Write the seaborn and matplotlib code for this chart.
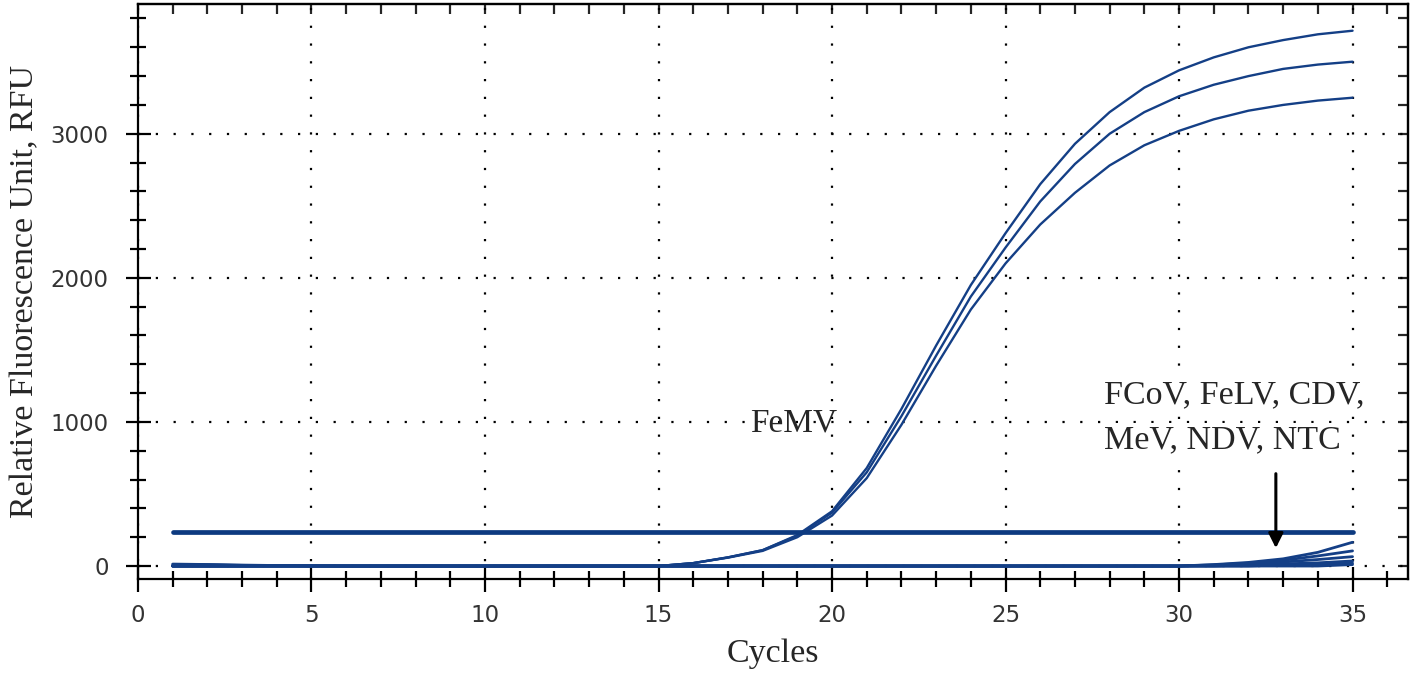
import numpy as np
import pandas as pd
import matplotlib
matplotlib.use("Agg")
import matplotlib.pyplot as plt
import seaborn as sns
from matplotlib.ticker import MultipleLocator

# Zyklen und Fluoreszenzwerte (RFU)
cycles = list(range(1, 36))

femv_1 = [15, 12, 8, 5, 2, 0, 0, 0, 0, 0, 0, 0, 0, 0, 0,
          20, 60, 110, 215, 380, 680, 1090, 1530, 1950, 2310,
          2650, 2930, 3150, 3320, 3440, 3530, 3600, 3650, 3690, 3715]
femv_2 = [12, 10, 6, 4, 1, 0, 0, 0, 0, 0, 0, 0, 0, 0, 0,
          20, 60, 110, 210, 370, 650, 1040, 1460, 1870, 2210,
          2530, 2790, 3000, 3150, 3260, 3340, 3400, 3450, 3480, 3500]
femv_3 = [10, 8, 5, 3, 1, 0, 0, 0, 0, 0, 0, 0, 0, 0, 0,
          20, 58, 105, 200, 350, 610, 980, 1390, 1780, 2100,
          2370, 2590, 2780, 2920, 3020, 3100, 3160, 3200, 3230, 3250]

neg_1 = [0] * 30 + [10, 25, 50, 95, 165]
neg_2 = [0] * 30 + [8, 20, 40, 70, 105]
neg_3 = [0] * 30 + [5, 15, 28, 45, 65]
neg_4 = [0] * 31 + [8, 15, 22, 35]
neg_5 = [0] * 32 + [8, 12, 20]
neg_6 = [0] * 34 + [10]

threshold_x = [1, 35]
threshold_y = [236, 236]

positives = {"FeMV 1": femv_1, "FeMV 2": femv_2, "FeMV 3": femv_3}
negatives = {"Neg 1": neg_1, "Neg 2": neg_2, "Neg 3": neg_3,
             "Neg 4": neg_4, "Neg 5": neg_5, "Neg 6": neg_6}

# Long-Format Dataframes fuer seaborn
def to_long(d):
    return pd.concat([pd.DataFrame({"Cycles": cycles, "RFU": vals, "sample": name})
                      for name, vals in d.items()], ignore_index=True)

df_pos = to_long(positives)
df_neg = to_long(negatives)

line_color = "#143f86"

sns.set_theme(style="white")
plt.rcParams["font.family"] = ["Liberation Serif", "DejaVu Serif"]

fig = plt.figure(figsize=(14.18, 6.76), dpi=100)
ax = fig.add_axes([0.0973, 0.1435, 0.8957, 0.8505])

sns.lineplot(data=df_neg, x="Cycles", y="RFU", hue="sample",
             palette=[line_color] * len(negatives), linewidth=2.0,
             legend=False, ax=ax)
sns.lineplot(data=df_pos, x="Cycles", y="RFU", hue="sample",
             palette=[line_color] * len(positives), linewidth=1.7,
             legend=False, ax=ax)
sns.lineplot(x=threshold_x, y=threshold_y, color="#0d3a80", linewidth=3.4, ax=ax)

ax.set_xlim(0, 36.6)
ax.set_ylim(-90, 3900)

ax.xaxis.set_major_locator(MultipleLocator(5))
ax.xaxis.set_minor_locator(MultipleLocator(1))
ax.yaxis.set_major_locator(MultipleLocator(1000))
ax.yaxis.set_minor_locator(MultipleLocator(200))

ax.grid(True, which="major", color="black", linestyle=(0, (1, 7)), linewidth=1.6)

for s in ax.spines.values():
    s.set_color("black")
    s.set_linewidth(1.6)

ax.tick_params(which="major", direction="inout", length=18, width=1.6, color="black",
               labelsize=16.5, labelcolor="#333333", left=True, bottom=True)
ax.tick_params(which="minor", direction="inout", length=11, width=1.6, color="black",
               left=True, bottom=True)
ax.tick_params(axis="y", which="major", pad=12)
ax.tick_params(axis="x", which="major", pad=9)
for lab in ax.get_xticklabels() + ax.get_yticklabels():
    lab.set_family(["DejaVu Sans"])

# Ticks oben und rechts nach innen
sec_x = ax.secondary_xaxis("top")
sec_x.xaxis.set_major_locator(MultipleLocator(1))
sec_x.tick_params(direction="in", length=7, width=1.6, labeltop=False)
sec_x.spines["top"].set_linewidth(1.6)
sec_y = ax.secondary_yaxis("right")
sec_y.yaxis.set_major_locator(MultipleLocator(200))
sec_y.tick_params(direction="in", length=7, width=1.6, labelright=False)
sec_y.spines["right"].set_linewidth(1.6)

ax.set_xlabel("Cycles", fontsize=24.5)
ax.set_ylabel("Relative Fluorescence Unit, RFU", fontsize=24.5)
ax.xaxis.set_label_coords(0.5, -0.103)
ax.yaxis.set_label_coords(-0.077, 0.5)

ax.text(18.9, 990, "FeMV", fontsize=24, ha="center", va="center")
ax.text(27.85, 1190, "FCoV, FeLV, CDV,", fontsize=24.5, ha="left", va="center",
        bbox=dict(facecolor="white", edgecolor="none", pad=1))
ax.text(27.85, 875, "MeV, NDV, NTC", fontsize=24.5, ha="left", va="center",
        bbox=dict(facecolor="white", edgecolor="none", pad=1))
ax.annotate("", xy=(32.79, 105), xytext=(32.79, 660),
            arrowprops=dict(arrowstyle="-|>", color="black", lw=2.2,
                            mutation_scale=22))

fig.savefig("out.png", dpi=100)
